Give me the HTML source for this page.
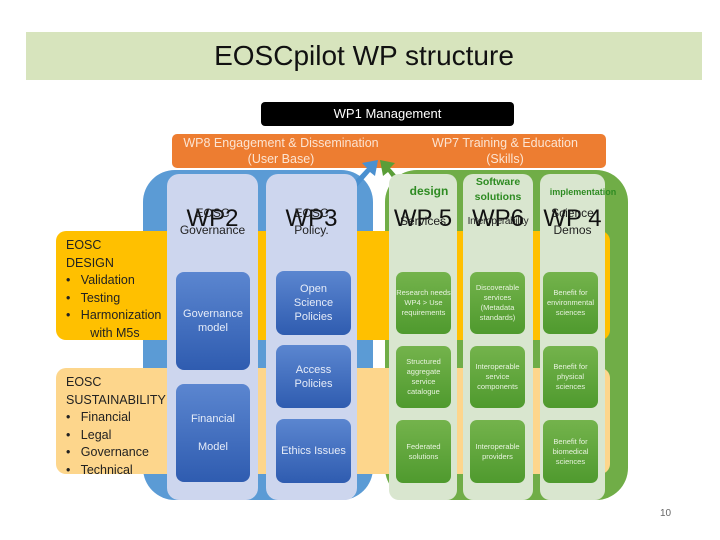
<!DOCTYPE html>
<html><head><meta charset="utf-8"><style>
body{margin:0;width:720px;height:540px;background:#fff;position:relative;overflow:hidden;font-family:"Liberation Sans",sans-serif}
div{position:absolute;box-sizing:border-box}
.c{text-align:center}
.db{background:linear-gradient(#5b86d0,#2f5cb0);border-radius:8px;color:#e6ecf8;font-size:11px;display:flex;align-items:center;justify-content:center;text-align:center;line-height:14px}
.gb{background:linear-gradient(#74b34c,#4f9a2e);border-radius:7px;color:#e8f3df;font-size:7.5px;display:flex;align-items:center;justify-content:center;text-align:center;line-height:10px}
.wp{font-size:24px;color:#111;width:100%;text-align:center}
.sub{font-size:12px;color:#222;width:100%;text-align:center;line-height:17px}
.lt{font-size:12.5px;color:#222;line-height:17.5px}
</style></head><body>
<div style="left:26px;top:32px;width:676px;height:48px;background:#d7e4bd"></div>
<div class="c" style="left:26px;top:40px;width:676px;font-size:28px;color:#111">EOSCpilot WP structure</div>
<div class="c" style="left:261px;top:102px;width:253px;height:24px;background:#000;border-radius:4px;color:#fff;font-size:13px;line-height:24px">WP1 Management</div>
<div style="left:172px;top:134px;width:434px;height:34px;background:#ed7d31;border-radius:5px"></div>
<div class="c" style="left:172px;top:135px;width:218px;color:#fce4d2;font-size:12.5px;line-height:16px">WP8 Engagement &amp; Dissemination<br>(User Base)</div>
<div class="c" style="left:405px;top:135px;width:200px;color:#fce4d2;font-size:12.5px;line-height:16px">WP7 Training &amp; Education<br>(Skills)</div>
<div style="left:143px;top:170px;width:230px;height:330px;background:#5b9bd5;border-radius:32px"></div>
<div style="left:385px;top:170px;width:243px;height:330px;background:#70ad47;border-radius:32px"></div>
<div style="left:56px;top:231px;width:554px;height:109px;background:#ffc000;border-radius:10px"></div>
<div style="left:56px;top:368px;width:554px;height:106px;background:#fdd68c;border-radius:10px"></div>
<svg style="position:absolute;left:0;top:0" width="720" height="540"><polygon points="352,184 367,168 362,163 378,160 375,176 370,172 356,188" fill="#4a90d0"/><polygon points="404,184 390,168 395,163 380,160 383,176 388,172 400,188" fill="#5a9e38"/></svg>
<div style="left:167px;top:174px;width:91px;height:326px;background:#cdd6ee;border-radius:12px"></div>
<div style="left:266px;top:174px;width:91px;height:326px;background:#cdd6ee;border-radius:12px"></div>
<div style="left:389px;top:174px;width:68px;height:326px;background:#d9e6cf;border-radius:10px"></div>
<div style="left:463px;top:174px;width:70px;height:326px;background:#d9e6cf;border-radius:10px"></div>
<div style="left:540px;top:174px;width:65px;height:326px;background:#d9e6cf;border-radius:10px"></div>
<div style="left:167px;top:205px;width:91px"><div class="wp">WP2</div><div class="sub">EOSC<br>Governance</div></div>
<div style="left:266px;top:205px;width:91px"><div class="wp">WP3</div><div class="sub">EOSC<br>Policy.</div></div>
<div class="c" style="left:389px;top:184px;width:80px;color:#2e8b22;font-weight:bold;font-size:12px">design</div>
<div class="c" style="left:463px;top:175px;width:70px;color:#2e8b22;font-weight:bold;font-size:10.5px;line-height:15px">Software<br>solutions</div>
<div class="c" style="left:538px;top:187px;width:90px;color:#2e8b22;font-weight:bold;font-size:9px">implementation</div>
<div style="left:389px;top:205px;width:68px"><div class="wp">WP 5</div><div class="sub" style="margin-top:8px">Services</div></div>
<div style="left:460px;top:205px;width:76px"><div class="wp">WP6</div><div class="sub" style="margin-top:8px;font-size:10px;letter-spacing:-.3px">Interoperability</div></div>
<div style="left:540px;top:205px;width:65px"><div class="wp">WP 4</div><div class="sub">Science<br>Demos</div></div>
<div class="lt" style="left:66px;top:237px">EOSC<br>DESIGN<br>•&nbsp;&nbsp; Validation<br>•&nbsp;&nbsp; Testing<br>•&nbsp;&nbsp; Harmonization<br>&nbsp;&nbsp;&nbsp;&nbsp;&nbsp;&nbsp; with M5s</div>
<div class="lt" style="left:66px;top:374px">EOSC<br>SUSTAINABILITY<br>•&nbsp;&nbsp; Financial<br>•&nbsp;&nbsp; Legal<br>•&nbsp;&nbsp; Governance<br>•&nbsp;&nbsp; Technical</div>
<div class="db" style="left:176px;top:272px;width:74px;height:98px">Governance<br>model</div>
<div class="db" style="left:176px;top:384px;width:74px;height:98px">Financial<br><br>Model</div>
<div class="db" style="left:276px;top:271px;width:75px;height:64px">Open<br>Science<br>Policies</div>
<div class="db" style="left:276px;top:345px;width:75px;height:63px">Access<br>Policies</div>
<div class="db" style="left:276px;top:419px;width:75px;height:64px">Ethics Issues</div>
<div class="gb" style="left:396px;top:272px;width:55px;height:62px">Research needs WP4 &gt; Use requirements</div>
<div class="gb" style="left:470px;top:272px;width:55px;height:62px">Discoverable services (Metadata standards)</div>
<div class="gb" style="left:543px;top:272px;width:55px;height:62px">Benefit for environmental sciences</div>
<div class="gb" style="left:396px;top:346px;width:55px;height:62px">Structured aggregate service catalogue</div>
<div class="gb" style="left:470px;top:346px;width:55px;height:62px">Interoperable service components</div>
<div class="gb" style="left:543px;top:346px;width:55px;height:62px">Benefit for physical sciences</div>
<div class="gb" style="left:396px;top:420px;width:55px;height:63px">Federated solutions</div>
<div class="gb" style="left:470px;top:420px;width:55px;height:63px">Interoperable providers</div>
<div class="gb" style="left:543px;top:420px;width:55px;height:63px">Benefit for biomedical sciences</div>
<div style="left:660px;top:508px;font-size:10px;color:#666">10</div>
</body></html>
